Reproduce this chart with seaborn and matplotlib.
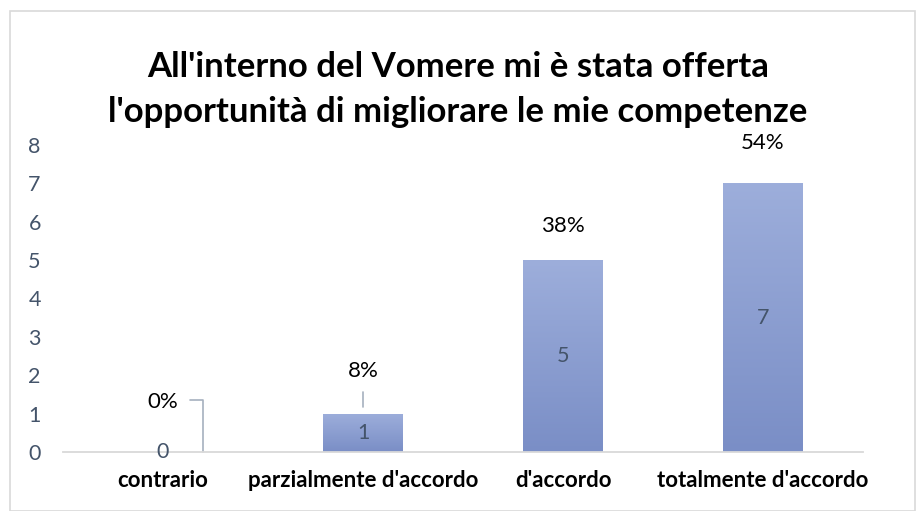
import matplotlib.pyplot as plt
import seaborn as sns
import numpy as np
import pandas as pd
from matplotlib.colors import LinearSegmentedColormap
from matplotlib.patches import Rectangle

categories = ["contrario", "parzialmente d'accordo", "d'accordo", "totalmente d'accordo"]
counts = [0, 1, 5, 7]
percent_labels = ["0%", "8%", "38%", "54%"]
title = "All'interno del Vomere mi è stata offerta\nl'opportunità di migliorare le mie competenze"

sns.set_theme(style="white")
plt.rcParams["font.family"] = ["Lato", "DejaVu Sans"]

df = pd.DataFrame({"categoria": categories, "conteggio": counts})

fig = plt.figure(figsize=(9.16, 5.11), dpi=100)
ax = fig.add_axes([63 / 916, 59 / 511, 800 / 916, 307 / 511])

sns.barplot(data=df, x="categoria", y="conteggio", ax=ax, color="#8A9ED3",
            width=0.4, saturation=1)

# gradient fill on bars
cmap = LinearSegmentedColormap.from_list("grad", ["#7A8EC6", "#9DAEDB"])
grad = np.linspace(0, 1, 256).reshape(-1, 1)
for p in ax.patches:
    h = p.get_height()
    if h <= 0:
        continue
    x0 = p.get_x()
    w = p.get_width()
    im = ax.imshow(grad, cmap=cmap, aspect="auto", origin="lower",
                   extent=[x0, x0 + w, 0, h], zorder=p.get_zorder() + 0.1)
    im.set_clip_path(p)

ax.set_xlim(-0.5, 3.5)
ax.set_ylim(0, 8)
ax.set_yticks(range(0, 9))
ax.tick_params(axis="y", labelsize=15.5, labelcolor="#44546A", length=0, pad=16)
ax.tick_params(axis="x", labelsize=16, length=0, pad=13)
for lab in ax.get_xticklabels():
    lab.set_fontweight("bold")
    lab.set_color("black")
ax.set_xlabel("")
ax.set_ylabel("")
for s in ["top", "right", "left"]:
    ax.spines[s].set_visible(False)
ax.spines["bottom"].set_color("#D9D9D9")
ax.spines["bottom"].set_linewidth(1.3)

# value labels inside bars
for i, v in enumerate(counts):
    ax.text(i, v / 2, str(v), ha="center", va="center", fontsize=15.5, color="#44546A")

# percent labels above bars
pct_offsets = [1.3, 1.1, 0.9, 1.05]
for i, (v, lab) in enumerate(zip(counts, percent_labels)):
    ax.text(i, v + pct_offsets[i], lab, ha="center", va="center",
            fontsize=16, color="black")

# leader lines
ax.plot([0.135, 0.2, 0.2], [1.35, 1.35, 0.0], color="#A6B0BF", lw=1.2, clip_on=False)
ax.plot([1, 1], [1.17, 1.56], color="#A6B0BF", lw=1.2)

fig.text(0.5, 1 - 128 / 511, title, ha="center", va="bottom", fontsize=25,
         fontweight="bold", color="black", linespacing=1.5)

# outer frame
fig.patches.append(Rectangle((10 / 916, 0), 905 / 916, 500 / 511, transform=fig.transFigure,
                             fill=False, edgecolor="#D9D9D9", lw=1.2))

fig.savefig("out.png", dpi=100)
